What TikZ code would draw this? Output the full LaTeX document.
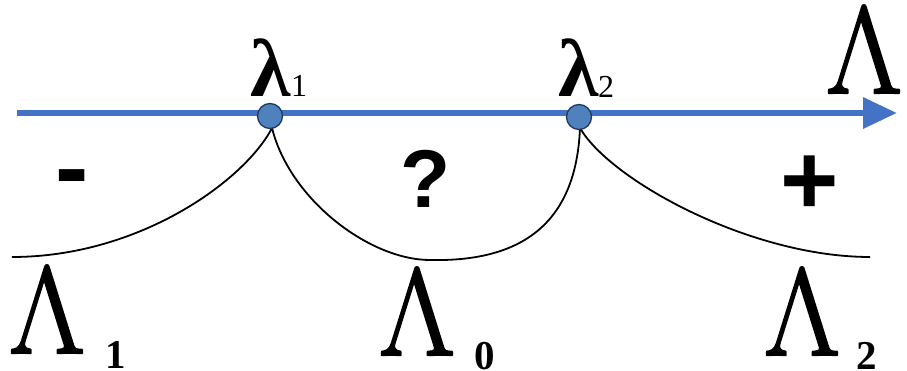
\RequirePackage{fix-cm}
\documentclass[tikz,border=0pt]{standalone}
\usepackage[no-math]{fontspec}
\usepackage{graphicx}
\setmainfont{Liberation Serif}
\newfontfamily\tnr{Liberation Serif}
\newfontfamily\ari{Liberation Sans}
\usetikzlibrary{arrows.meta}
\definecolor{axisblue}{RGB}{68,114,196}
\definecolor{dotfill}{RGB}{79,129,189}
\definecolor{dotline}{RGB}{32,56,100}
\newcommand\BigLam{\special{pdf:literal 2 Tr 2.4 w 1 j}\scalebox{0.95}[1]{\fontsize{124}{124}\selectfont$\Lambda$}\special{pdf:literal 0 Tr}}
\tikzset{
  bigL/.style={inner sep=0pt, anchor=base west},
  bigsub/.style={font=\tnr\bfseries\fontsize{41}{41}\selectfont, inner sep=0pt, anchor=base west},
  smallL/.style={font=\tnr\bfseries\fontsize{82}{82}\selectfont, inner sep=0pt, anchor=base west},
  smallsub/.style={font=\tnr\fontsize{32}{32}\selectfont, inner sep=0pt, anchor=base west},
  sign/.style={font=\ari\bfseries\fontsize{#1}{#1}\selectfont, inner sep=0pt, anchor=base},
  pt/.style={circle, draw=dotline, fill=dotfill, line width=1.3pt, minimum size=25pt, inner sep=0pt},
  curve/.style={line width=1.8pt, black}
}
\begin{document}
\begin{tikzpicture}[x=1pt,y=-1pt]
\useasboundingbox (0,0) rectangle (907,371);
% axis
\coordinate (a0) at (17,113);
\coordinate (a1) at (897,113);
\draw[axisblue, line width=6.5pt, -{Triangle[length=34pt,width=30pt]}] (a0) -- (a1);
% arcs
\coordinate (e1) at (12,257);
\coordinate (e0) at (430,260);
\coordinate (e2) at (870,257);
\coordinate (t1) at (272,128);
\coordinate (t2) at (580,128);
\draw[curve] (t1) .. controls (245,180) and (140,257) .. (e1);
\draw[curve] (t1) .. controls (290,200) and (370,260) .. (e0);
\draw[curve] (e0) .. controls (520,262) and (576,225) .. (t2);
\draw[curve] (t2) .. controls (610,180) and (750,257) .. (e2);
% points
\node[pt] (d1) at (270,116) {};
\node[pt] (d2) at (579,117) {};
% top labels
\node[smallL] (l1) at (250,97) {λ};
\node[smallsub] (l1s) at (291,97) {1};
\node[smallL] (l2) at (558,97) {λ};
\node[smallsub] (l2s) at (598,98) {2};
\node[bigL] (LL) at (826,93) {\BigLam};
% signs
\node[sign=100] (minus) at (72,202) {-};
\node[sign=82] (q) at (426,208) {?};
\node[sign=100] (plus) at (810,215) {+};
% bottom labels
\node[bigL] (L1) at (9,353) {\BigLam};
\node[bigsub] (L1s) at (105,368) {1};
\node[bigL] (L0) at (379,355) {\BigLam};
\node[bigsub] (L0s) at (474,369) {0};
\node[bigL] (L2) at (764,355) {\BigLam};
\node[bigsub] (L2s) at (856,369) {2};
\end{tikzpicture}
\end{document}
